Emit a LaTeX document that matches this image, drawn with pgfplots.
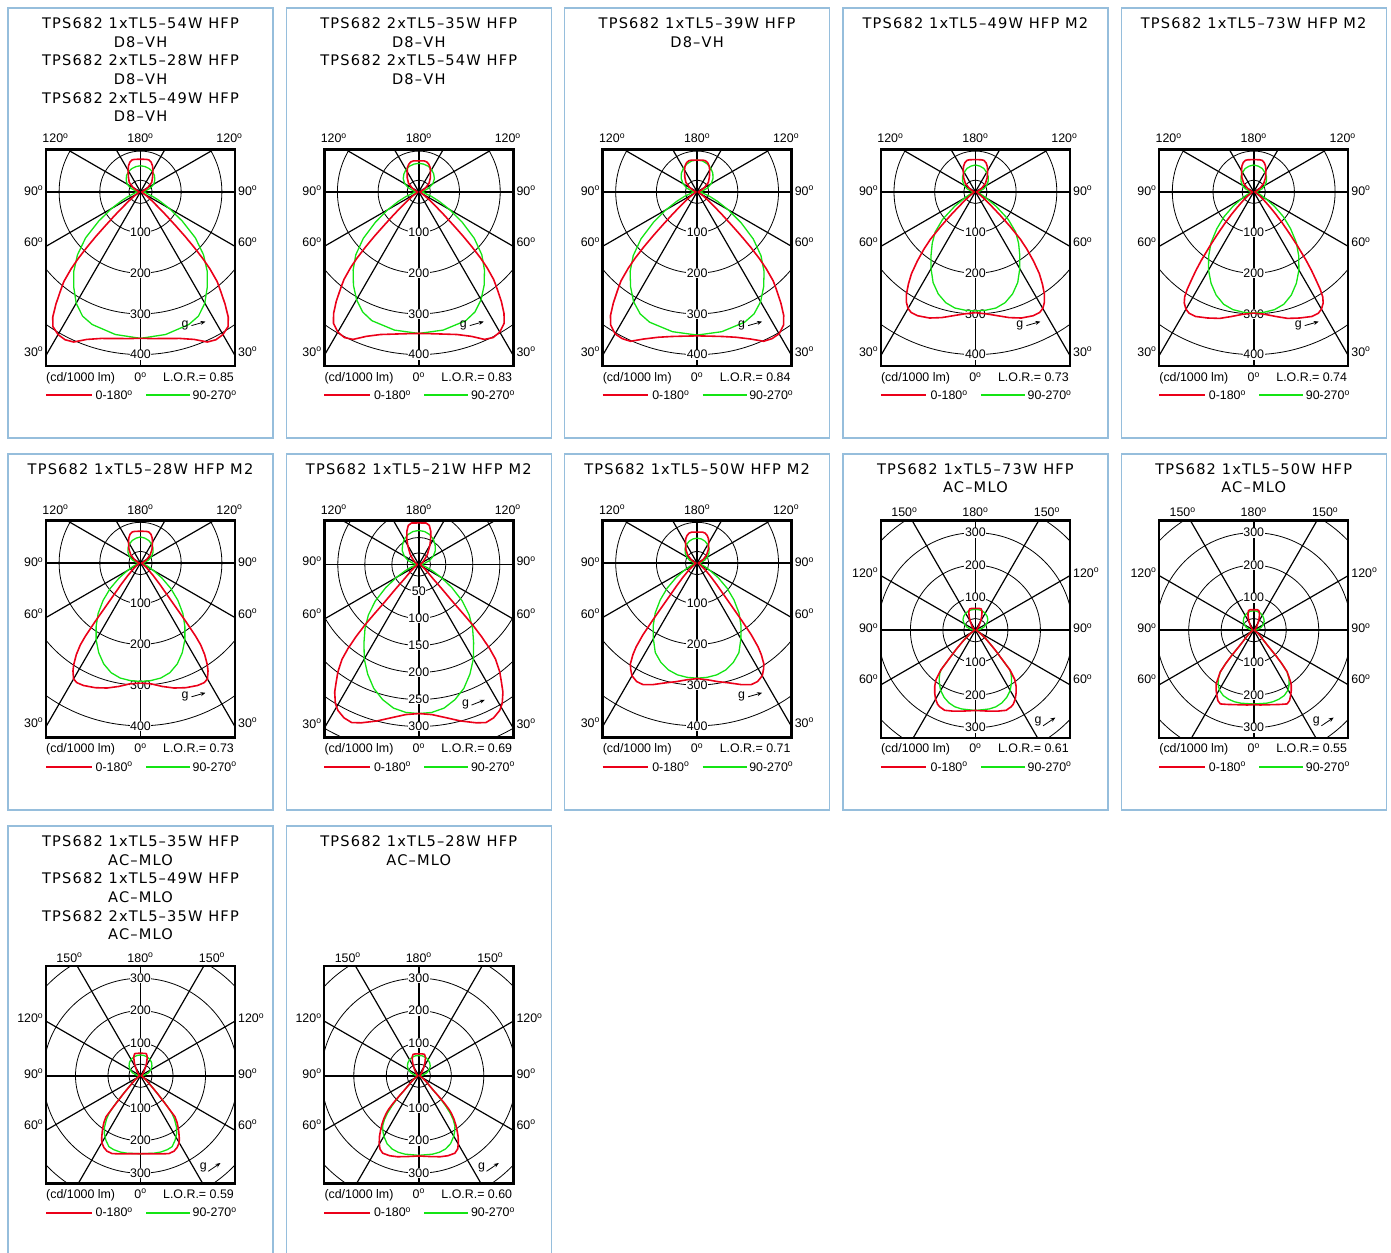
\documentclass[border=0pt]{standalone}
\usepackage{fontspec}
\setmainfont{Liberation Sans}
\newfontfamily\titlefont[LetterSpace=8]{DejaVu Sans}
\usepackage{pgfplots}
\usepackage{pgfplotstable}
\pgfplotsset{compat=1.18}
\usetikzlibrary{arrows.meta}

\definecolor{cred}{RGB}{235,0,25}
\definecolor{cgreen}{RGB}{20,228,20}
\definecolor{framec}{RGB}{150,190,220}

\newcommand\dg{\textsuperscript{o}}
\newcommand\tfont{\titlefont\fontsize{14.6}{17}\selectfont}

% gamma (deg, 0 = down) / intensity (cd/1000 lm), one half plane, mirrored when drawn
% P1
\pgfplotstableread[row sep=\\]{g r\\0 360\\10 356\\20 347\\25 337\\30 316\\35 286\\40 255\\45 219\\50 176\\55 125\\60 82\\65 50\\70 30\\80 12\\90 4\\100 12\\110 25\\120 38\\130 46\\140 53\\150 58\\160 61\\170 63\\180 64\\}\gA
\pgfplotstableread[row sep=\\]{g r\\0 360\\5 362\\10 366\\15 373\\20 386\\24 404\\27 408\\30 405\\33 395\\35 376\\37 345\\39 312\\40.5 290\\42 255\\43 225\\44 190\\45 155\\46 120\\47.5 85\\49 60\\52 35\\56 18\\60 9\\70 4\\80 3\\90 3\\100 5\\110 10\\120 21\\130 36\\140 46\\150 61\\155 70\\160 77\\165 81\\170 81\\180 80\\}\rA
% P2
\pgfplotstableread[row sep=\\]{g r\\0 348\\10 345\\20 337\\25 326\\30 306\\35 280\\40 251\\45 219\\50 178\\55 130\\60 88\\65 55\\70 33\\80 12\\90 4\\100 13\\110 26\\120 40\\130 50\\140 57\\150 63\\160 67\\170 69\\180 70\\}\gB
\pgfplotstableread[row sep=\\]{g r\\0 348\\5 350\\10 355\\15 363\\20 378\\24 397\\27 402\\30 398\\33 385\\35 365\\37 337\\39 305\\40.5 283\\42 250\\43 222\\44 188\\45 153\\46 118\\47.5 84\\49 60\\52 35\\56 18\\60 9\\70 4\\80 3\\90 3\\100 5\\110 9\\120 19\\130 33\\140 44\\150 57\\155 66\\160 72\\165 76\\170 77\\180 76\\}\rB
% P3
\pgfplotstableread[row sep=\\]{g r\\0 352\\10 349\\20 341\\25 331\\30 312\\35 285\\40 256\\45 222\\50 180\\55 131\\60 88\\65 55\\70 33\\80 12\\90 4\\100 14\\110 27\\120 40\\130 51\\140 60\\150 67\\160 73\\170 77\\180 78\\}\gC
\pgfplotstableread[row sep=\\]{g r\\0 354\\5 356\\10 361\\15 370\\20 385\\24 402\\27 405\\30 403\\33 390\\35 371\\37 342\\39 310\\40.5 288\\42 253\\43 224\\44 190\\45 152\\46 118\\47.5 84\\49 60\\52 35\\56 18\\60 9\\70 4\\80 3\\90 3\\100 5\\110 10\\120 21\\130 36\\140 47\\150 62\\155 70\\160 76\\165 79\\170 79\\180 78\\}\rC
% P4
\pgfplotstableread[row sep=\\]{g r\\0 293\\5 292\\10 290\\15 282\\20 267\\25 246\\30 218\\35 190\\40 165\\45 140\\50 105\\55 62\\60 30\\65 16\\70 10\\80 5\\90 3\\100 11\\110 22\\120 32\\130 41\\140 49\\150 55\\160 61\\170 64\\180 66\\}\gD
\pgfplotstableread[row sep=\\]{g r\\0 297\\5 301\\10 309\\15 320\\20 330\\25 336\\28 336\\30 331\\32 320\\34 303\\36 280\\38 255\\40 222\\42 188\\43.5 160\\45 120\\46.5 85\\48 58\\50 38\\53 22\\57 12\\60 8\\70 4\\80 3\\90 3\\100 5\\110 9\\120 18\\130 32\\140 45\\150 60\\155 69\\160 76\\165 80\\170 80\\180 79\\}\rD
% P5
\pgfplotstableread[row sep=\\]{g r\\0 298\\5 297\\10 294\\15 286\\20 270\\25 248\\30 222\\35 193\\40 163\\45 128\\50 95\\55 62\\60 35\\65 20\\70 12\\80 5\\90 3\\100 11\\110 22\\120 32\\130 41\\140 49\\150 55\\160 61\\170 64\\180 66\\}\gE
\pgfplotstableread[row sep=\\]{g r\\0 298\\5 302\\10 311\\15 322\\20 330\\25 338\\28 338\\30 333\\32 322\\33.3 309\\34.3 290\\35.2 266\\36.3 240\\37.4 212\\39 170\\40.6 135\\42.5 104\\44.5 78\\46.5 57\\49 40\\52 27\\56 16\\60 9\\70 4\\80 3\\90 3\\100 5\\110 9\\120 18\\130 32\\140 45\\150 60\\155 69\\160 76\\165 80\\170 80\\180 79\\}\rE
% P6
\pgfplotstableread[row sep=\\]{g r\\0 291\\5 290\\10 287\\15 279\\20 264\\25 243\\30 218\\35 190\\40 162\\45 130\\50 97\\55 64\\60 37\\65 21\\70 12\\80 5\\90 3\\100 11\\110 21\\120 31\\130 40\\140 48\\150 54\\160 59\\170 62\\180 64\\}\gF
\pgfplotstableread[row sep=\\]{g r\\0 295\\5 298\\10 308\\15 318\\20 326\\25 332\\28 333\\30 329\\32 313\\33.3 299\\35 275\\36.3 250\\37 225\\37.8 180\\38.7 135\\40 100\\42 72\\45 46\\48 30\\52 18\\56 11\\60 8\\70 4\\80 3\\90 3\\100 5\\110 9\\120 18\\130 31\\140 44\\150 59\\155 68\\160 75\\165 79\\170 79\\180 78\\}\rF
% P7
\pgfplotstableread[row sep=\\]{g r\\0 276\\5 275\\10 270\\15 259\\20 244\\25 224\\30 202\\35 177\\40 155\\45 132\\50 105\\55 75\\60 48\\65 28\\70 16\\80 6\\90 3\\100 10\\110 21\\120 31\\130 40\\140 47\\150 54\\160 59\\170 62\\180 63\\}\gG
\pgfplotstableread[row sep=\\]{g r\\0 276\\5 279\\10 288\\15 300\\20 312\\23 318\\26 316\\29 309\\31 300\\33.4 283\\35 267\\37 249\\39 226\\40.1 204\\41 178\\41.7 151\\42 125\\42.3 94\\43.5 62\\45 38\\48 24\\52 15\\56 10\\60 7\\70 4\\80 3\\90 3\\100 3\\110 5\\120 8\\130 13\\135 18\\140 25\\150 41\\155 52\\160 65\\165 75\\170 78\\180 77\\}\rG
% P8
\pgfplotstableread[row sep=\\]{g r\\0 283\\5 282\\10 279\\15 272\\20 260\\25 243\\30 215\\35 188\\40 160\\45 128\\50 96\\55 64\\60 37\\65 21\\70 12\\80 5\\90 3\\100 10\\110 20\\120 29\\130 38\\140 46\\150 52\\160 57\\170 60\\180 61\\}\gH
\pgfplotstableread[row sep=\\]{g r\\0 284\\5 288\\10 296\\15 305\\20 318\\24 327\\27 327\\30 320\\32 308\\33.5 297\\35 275\\36 255\\37 222\\37.8 180\\38.7 138\\40 102\\42 74\\45 48\\48 31\\52 18\\56 11\\60 8\\70 4\\80 3\\90 3\\100 5\\110 9\\120 17\\130 30\\140 43\\150 57\\155 66\\160 72\\165 76\\170 77\\180 76\\}\rH
% P9
\pgfplotstableread[row sep=\\]{g r\\0 247\\10 246\\15 244\\20 238\\25 228\\30 214\\34 198\\37 185\\39.5 172\\41 160\\43 112\\45 85\\47 63\\50 43\\55 22\\60 12\\70 5\\80 3\\90 3\\100 14\\110 28\\120 40\\130 50\\140 56\\150 60\\160 63\\170 64\\180 64\\}\gI
\pgfplotstableread[row sep=\\]{g r\\0 247\\5 249\\10 253\\15 258\\21 264\\25 260\\27 256\\30 245\\33 230\\36 213\\38.6 194\\41 162\\43 112\\45 85\\47 63\\50 43\\55 22\\60 12\\70 5\\80 3\\90 3\\100 3\\110 4\\120 6\\130 9\\140 16\\145 22\\150 32\\155 45\\160 60\\165 68\\170 68\\180 67\\}\rI
% P10
\pgfplotstableread[row sep=\\]{g r\\0 227\\10 228\\15 228\\20 226\\25 222\\30 212\\33 200\\36 185\\38.7 164\\40 135\\41 105\\42 70\\44 45\\48 28\\52 18\\56 12\\60 8\\70 4\\80 3\\90 3\\100 12\\110 24\\120 33\\130 42\\140 48\\150 53\\160 57\\170 59\\180 60\\}\gJ
\pgfplotstableread[row sep=\\]{g r\\0 229\\5 231\\10 233\\15 237\\20 243\\24.4 249\\27 243\\29.4 231\\32 218\\35 201\\38.7 165\\40 135\\41 105\\42 70\\44 45\\48 28\\52 18\\56 12\\60 8\\70 4\\80 3\\90 3\\100 3\\110 4\\120 5\\130 8\\140 14\\145 19\\150 27\\155 39\\160 52\\165 62\\170 64\\180 63\\}\rJ
% P11
\pgfplotstableread[row sep=\\]{g r\\0 240\\10 242\\15 243\\20 242\\24 239\\28 226\\32 210\\35 193\\38 170\\40 150\\42 110\\43.5 78\\45 57\\48 36\\52 22\\56 14\\60 9\\70 4\\80 3\\90 3\\100 13\\110 26\\120 37\\130 46\\140 53\\150 58\\160 61\\170 63\\180 64\\}\gK
\pgfplotstableread[row sep=\\]{g r\\0 240\\5 241\\10 244\\15 249\\20 255\\24 254\\27 248\\30 238\\32 225\\34 211\\36 197\\38 183\\40 165\\41 128\\42 100\\43.5 75\\45 55\\48 35\\52 22\\56 14\\60 9\\70 4\\80 3\\90 3\\100 3\\110 4\\120 6\\130 9\\140 16\\145 22\\150 32\\155 45\\160 61\\165 70\\170 70\\180 69\\}\rK
% P12
\pgfplotstableread[row sep=\\]{g r\\0 245\\10 245\\15 244\\20 240\\25 231\\30 215\\33 203\\35.8 190\\38 172\\40 150\\41.6 124\\43 100\\44 82\\45 62\\47 45\\50 32\\54 20\\58 13\\62 9\\70 5\\80 3\\90 3\\100 13\\110 26\\120 37\\130 46\\140 52\\150 57\\160 60\\170 62\\180 62\\}\gL
\pgfplotstableread[row sep=\\]{g r\\0 247\\5 249\\10 253\\15 258\\20 262\\25 263\\28 255\\30.5 240\\33 222\\35 205\\37 189\\39 172\\41 152\\42 138\\43 115\\44 88\\45 62\\47 45\\50 32\\54 20\\58 13\\62 9\\70 5\\80 3\\90 3\\100 3\\110 4\\120 6\\130 9\\140 16\\145 22\\150 32\\155 45\\160 60\\165 68\\170 68\\180 67\\}\rL

\tikzset{
  lab/.style={font=\fontsize{12.4}{13}\selectfont, inner sep=0pt},
  rlab/.style={font=\fontsize{12.4}{13}\selectfont, fill=white, inner sep=0.6pt},
  ring/.style={line width=0.8pt},
  rad/.style={line width=1.2pt},
  gc/.style={cgreen, line width=1.3pt, line join=round},
  rc/.style={cred, line width=1.6pt, line join=round},
}
\pgfplotsset{polbox/.style={axis on top, xtick=\empty, ytick=\empty,
  axis line style={line width=2.4pt}, anchor=origin, clip=true}}

\newcommand\lobe[2]{%
  \addplot[#1] table[x expr={\thisrow{r}*sin(\thisrow{g})}, y expr={-\thisrow{r}*cos(\thisrow{g})}] {#2};
  \addplot[#1] table[x expr={-\thisrow{r}*sin(\thisrow{g})}, y expr={-\thisrow{r}*cos(\thisrow{g})}] {#2};
}
\newcommand\polgrid[2]{%
  \pgfplotsinvokeforeach{#1}{\draw[ring] (0,0) circle[radius=##1];}
  \draw[ring] (0,0) circle[radius=#2];
  \pgfplotsinvokeforeach{30,60,120,150,210,240,300,330}{\draw[rad] (0,0) -- ({2000*sin(##1)},{2000*cos(##1)});}
  \draw[line width=1.6pt] (-2000,0) -- (2000,0);
  \draw[line width=1.6pt] (0,-2000) -- (0,2000);
}
% legend sample lines: cx, y of the line
\newcommand\leglines[2]{%
  \draw[cred, line width=1.8pt] (#1-94.5,#2) -- (#1-49,#2);
  \draw[cgreen, line width=1.8pt] (#1+5.5,#2) -- (#1+49.5,#2);
}
\newcommand\bottomlabs[3]{%
  \node[lab,anchor=base west] at (#1-94.5,#2+15.3) {(cd/1000 lm)};
  \node[lab,anchor=base] at (#1,#2+15.3) {0\dg};
  \node[lab,anchor=base east] at (#1+93.5,#2+15.3) {L.O.R.= #3};
  \node[lab,anchor=base west] at (#1-45,#2+33.6) {0-180\dg};
  \node[lab,anchor=base west] at (#1+52,#2+33.6) {90-270\dg};
}
% type A: 100..400 scale, centre near the top
\newcommand\polA[5]{%
  \pgfmathsetmacro\pcy{#2+42.5}%
  \begin{axis}[polbox, x=0.407pt, y=0.407pt, xmin=-232.2, xmax=232.2, ymin=-428.7, ymax=104.4, at={(#1pt,-\pcy pt)}]
    \polgrid{100,200,300,400,500}{28.7}
    \pgfplotsinvokeforeach{100,200,300,400}{\node[rlab] at (0,-##1) {##1};}
    \lobe{gc}{#4}
    \lobe{rc}{#5}
  \end{axis}
  \node[lab,anchor=base] at (#1-85,#2-6.5) {120\dg};
  \node[lab,anchor=base] at (#1,#2-6.5) {180\dg};
  \node[lab,anchor=base] at (#1+89,#2-6.5) {120\dg};
  \foreach \a/\dy in {90/3.4,60/55,30/164.3}{
    \node[lab,anchor=base east] at (#1-97,\pcy+\dy) {\a\dg};
    \node[lab,anchor=base west] at (#1+97.5,\pcy+\dy) {\a\dg};
  }
  \bottomlabs{#1}{#2+217}{#3}
  \node[lab,anchor=base] at (#1+44.5,#2+217-38.6) {g};
  \draw[-{Stealth[length=5pt,width=4pt]}, line width=0.8pt] (#1+51,#2+217-40.7) -- (#1+65,#2+217-44.7);
}
% type S: 50..300 scale
\newcommand\polS[5]{%
  \pgfmathsetmacro\pcy{#2+44}%
  \begin{axis}[polbox, x=0.54pt, y=0.54pt, xmin=-175, xmax=175, ymin=-320.4, ymax=81.5, at={(#1pt,-\pcy pt)}]
    \polgrid{50,100,150,200,250,300,350}{21.7}
    \pgfplotsinvokeforeach{50,100,150,200,250,300}{\node[rlab] at (0,-##1) {##1};}
    \lobe{gc}{#4}
    \lobe{rc}{#5}
  \end{axis}
  \node[lab,anchor=base] at (#1-85,#2-6.5) {120\dg};
  \node[lab,anchor=base] at (#1,#2-6.5) {180\dg};
  \node[lab,anchor=base] at (#1+89,#2-6.5) {120\dg};
  \foreach \a/\dy in {90/1,60/53.6,30/163.6}{
    \node[lab,anchor=base east] at (#1-97,\pcy+\dy) {\a\dg};
    \node[lab,anchor=base west] at (#1+97.5,\pcy+\dy) {\a\dg};
  }
  \bottomlabs{#1}{#2+217}{#3}
  \node[lab,anchor=base] at (#1+46.7,#2+217-31.3) {g};
  \draw[-{Stealth[length=5pt,width=4pt]}, line width=0.8pt] (#1+52.7,#2+217-32.4) -- (#1+66,#2+217-37.7);
}
% type B: centre in the middle, rings both ways
\newcommand\polB[5]{%
  \pgfmathsetmacro\pcy{#2+109.7}%
  \begin{axis}[polbox, x=0.325pt, y=0.325pt, xmin=-290.8, xmax=290.8, ymin=-331.4, ymax=337.5, at={(#1pt,-\pcy pt)}]
    \polgrid{100,200,300,400,500}{36}
    \pgfplotsinvokeforeach{100,200,300}{\node[rlab] at (0,-##1) {##1}; \node[rlab] at (0,##1) {##1};}
    \lobe{gc}{#4}
    \lobe{rc}{#5}
  \end{axis}
  \node[lab,anchor=base] at (#1-71,#2-4) {150\dg};
  \node[lab,anchor=base] at (#1,#2-4) {180\dg};
  \node[lab,anchor=base] at (#1+71.5,#2-4) {150\dg};
  \foreach \a/\dy in {120/-53,90/2.6,60/53.6}{
    \node[lab,anchor=base east] at (#1-97,\pcy+\dy) {\a\dg};
    \node[lab,anchor=base west] at (#1+97.5,\pcy+\dy) {\a\dg};
  }
  \bottomlabs{#1}{#2+217}{#3}
  \node[lab,anchor=base] at (#1+62.7,#2+217-13.6) {g};
  \draw[-{Stealth[length=5pt,width=4pt]}, line width=0.8pt] (#1+67.7,#2+217-11.7) -- (#1+80,#2+217-20);
}
\newcommand\ttl[3]{\node[anchor=base, inner sep=0pt, font=\tfont] at (#1,#2) {#3};}

\begin{document}
\begin{tikzpicture}[x=1pt,y=-1pt]
\useasboundingbox (0,0) rectangle (1391,1252);
\foreach \L in {8,286.3,564.6,842.9,1121.2}{
  \draw[framec, line width=1.3pt] (\L,8) rectangle (\L+265,438);
  \draw[framec, line width=1.3pt] (\L,454) rectangle (\L+265,810);
}
\foreach \L in {8,286.3}{
  \draw[framec, line width=1.3pt] (\L,1262) -- (\L,826) -- (\L+265,826) -- (\L+265,1262);
}
% legend sample lines
\foreach \c in {140.5,418.8,697.1,975.4,1253.7}{
  \leglines{\c}{395}
  \leglines{\c}{767}
}
\leglines{140.5}{1213}
\leglines{418.8}{1213}

% titles
\ttl{140.5}{28.7}{TPS682 1xTL5–54W HFP}
\ttl{140.5}{47.3}{D8–VH}
\ttl{140.5}{65.9}{TPS682 2xTL5–28W HFP}
\ttl{140.5}{84.5}{D8–VH}
\ttl{140.5}{103.1}{TPS682 2xTL5–49W HFP}
\ttl{140.5}{121.7}{D8–VH}
\ttl{418.8}{28.7}{TPS682 2xTL5–35W HFP}
\ttl{418.8}{47.3}{D8–VH}
\ttl{418.8}{65.9}{TPS682 2xTL5–54W HFP}
\ttl{418.8}{84.5}{D8–VH}
\ttl{697.1}{28.7}{TPS682 1xTL5–39W HFP}
\ttl{697.1}{47.3}{D8–VH}
\ttl{975.4}{28.7}{TPS682 1xTL5–49W HFP M2}
\ttl{1253.7}{28.7}{TPS682 1xTL5–73W HFP M2}

\ttl{140.5}{474}{TPS682 1xTL5–28W HFP M2}
\ttl{418.8}{474}{TPS682 1xTL5–21W HFP M2}
\ttl{697.1}{474}{TPS682 1xTL5–50W HFP M2}
\ttl{975.4}{474}{TPS682 1xTL5–73W HFP}
\ttl{975.4}{492.6}{AC–MLO}
\ttl{1253.7}{474}{TPS682 1xTL5–50W HFP}
\ttl{1253.7}{492.6}{AC–MLO}

\ttl{140.5}{846.7}{TPS682 1xTL5–35W HFP}
\ttl{140.5}{865.3}{AC–MLO}
\ttl{140.5}{883.9}{TPS682 1xTL5–49W HFP}
\ttl{140.5}{902.5}{AC–MLO}
\ttl{140.5}{921.1}{TPS682 2xTL5–35W HFP}
\ttl{140.5}{939.7}{AC–MLO}
\ttl{418.8}{846.7}{TPS682 1xTL5–28W HFP}
\ttl{418.8}{865.3}{AC–MLO}

% diagrams
\polA{140.5}{149.3}{0.85}{\gA}{\rA}
\polA{418.8}{149.3}{0.83}{\gB}{\rB}
\polA{697.1}{149.3}{0.84}{\gC}{\rC}
\polA{975.4}{149.3}{0.73}{\gD}{\rD}
\polA{1253.7}{149.3}{0.74}{\gE}{\rE}

\polA{140.5}{520.5}{0.73}{\gF}{\rF}
\polS{418.8}{520.5}{0.69}{\gG}{\rG}
\polA{697.1}{520.5}{0.71}{\gH}{\rH}
\polB{975.4}{520.5}{0.61}{\gI}{\rI}
\polB{1253.7}{520.5}{0.55}{\gJ}{\rJ}

\polB{140.5}{966}{0.59}{\gK}{\rK}
\polB{418.8}{966}{0.60}{\gL}{\rL}
\end{tikzpicture}
\end{document}
